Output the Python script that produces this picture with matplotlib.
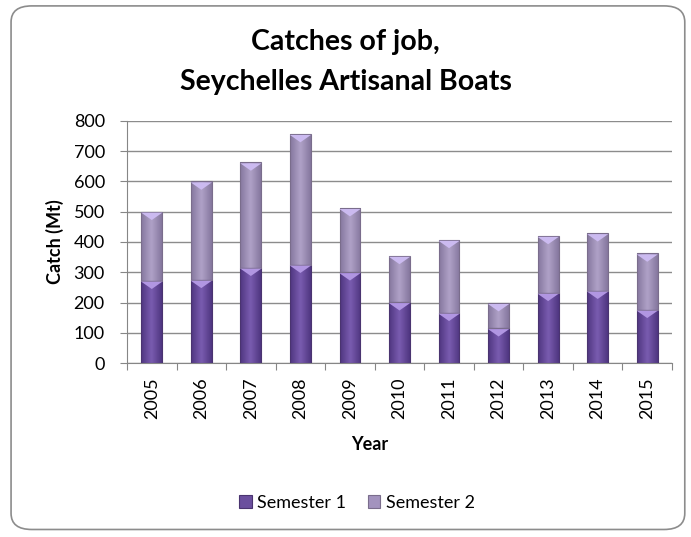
import numpy as np
import matplotlib
matplotlib.use('Agg')
import matplotlib.pyplot as plt
from matplotlib.patches import FancyBboxPatch
from matplotlib.colors import LinearSegmentedColormap

years = ['2005', '2006', '2007', '2008', '2009', '2010', '2011', '2012', '2013', '2014', '2015']
semester1 = [272, 275, 315, 325, 300, 201, 166, 115, 232, 239, 176]
semester2 = [228, 325, 348, 432, 212, 153, 241, 83, 188, 190, 186]

plt.rcParams['font.family'] = ['Lato', 'DejaVu Sans']

W, H = 691, 537


def gradient_bars(ax, bars, dark, light):
    cmap = LinearSegmentedColormap.from_list('g', [dark, light, dark])
    grad = np.linspace(0, 1, 64).reshape(1, -1)
    for b in bars:
        x0, y0 = b.get_x(), b.get_y()
        w, h = b.get_width(), b.get_height()
        im = ax.imshow(grad, cmap=cmap, aspect='auto', extent=[x0, x0 + w, y0, y0 + h],
                       zorder=2.5, interpolation='bicubic')
        im.set_clip_path(b)
        b.set_facecolor('none')


def main():
    fig = plt.figure(figsize=(W / 100, H / 100), dpi=100)
    fig.patch.set_facecolor('white')

    border = FancyBboxPatch((0.016, 0.014), 0.975, 0.975, boxstyle='round,pad=0,rounding_size=0.03',
                            transform=fig.transFigure, facecolor='white', edgecolor='#8c8c8c',
                            linewidth=1.2, zorder=-5)
    fig.patches.append(border)

    ax = fig.add_axes([127 / W, 1 - 363 / H, 545 / W, 242 / H])
    ax.set_facecolor('none')
    x = np.arange(len(years))
    width = 0.42

    b1 = ax.bar(x, semester1, width, color='#6b4f9e', edgecolor='#4a3470', linewidth=0.8,
                label='Semester 1', zorder=3)
    b2 = ax.bar(x, semester2, width, bottom=semester1, color='#a393be', edgecolor='#7a6d8c',
                linewidth=0.8, label='Semester 2', zorder=3)
    gradient_bars(ax, b1, '#4f3680', '#7a5cb0')
    gradient_bars(ax, b2, '#85779e', '#b0a2c8')

    # bevel highlights just under the top of each segment
    tri = [(-1, 0), (1, 0), (0, -0.7), (-1, 0)]
    tops1 = np.array(semester1)
    tops2 = tops1 + np.array(semester2)
    ax.scatter(x, tops1 - 3, marker=tri, s=230, color='#b196e2', edgecolor='none', zorder=4)
    ax.scatter(x, tops2 - 3, marker=tri, s=230, color='#cbbaf0', edgecolor='none', zorder=4)

    ax.set_xlim(-0.5, len(years) - 0.5)
    ax.set_ylim(0, 800)
    ax.set_yticks(range(0, 801, 100))
    ax.set_xticks(np.arange(-0.5, len(years), 1), minor=False)
    ax.set_xticklabels([])
    ax.set_xticks(x, minor=True)
    ax.set_xticklabels(years, minor=True, rotation=90, fontsize=13)
    ax.tick_params(axis='x', which='minor', length=0, pad=10.5)
    ax.tick_params(axis='x', which='major', length=5, direction='out', color='#868686')
    ax.tick_params(axis='y', length=5, direction='out', color='#868686', labelsize=13, pad=11)

    ax.yaxis.grid(True, color='#8c8c8c', linewidth=1.0)
    ax.set_axisbelow(True)
    for s in ['top', 'right']:
        ax.spines[s].set_visible(False)
    ax.spines['left'].set_color('#868686')
    ax.spines['bottom'].set_color('#868686')

    ax.set_xlabel('Year', fontsize=13, fontweight='bold')
    ax.xaxis.set_label_coords((370 - 127) / 545, (363 - 436) / 242)
    ax.set_ylabel('Catch (Mt)', fontsize=13, fontweight='bold')
    ax.yaxis.set_label_coords((64 - 127) / 545, 0.5)

    fig.text(0.5, 1 - 50 / H, 'Catches of job,', ha='center', va='baseline',
             fontsize=20.5, fontweight='bold')
    fig.text(0.5, 1 - 90 / H, 'Seychelles Artisanal Boats', ha='center', va='baseline',
             fontsize=20.5, fontweight='bold')

    fig.legend(handles=[b1, b2], labels=['Semester 1', 'Semester 2'], loc='center',
               bbox_to_anchor=(357 / W, 1 - 503 / H), ncol=2, frameon=False, fontsize=13,
               handlelength=0.7, handleheight=0.7, handletextpad=0.3, columnspacing=1.2)
    for h, c in zip(fig.legends[0].legend_handles, ['#6b4f9e', '#a393be']):
        h.set_facecolor(c)

    fig.savefig('out.png', dpi=100)


if __name__ == '__main__':
    main()
